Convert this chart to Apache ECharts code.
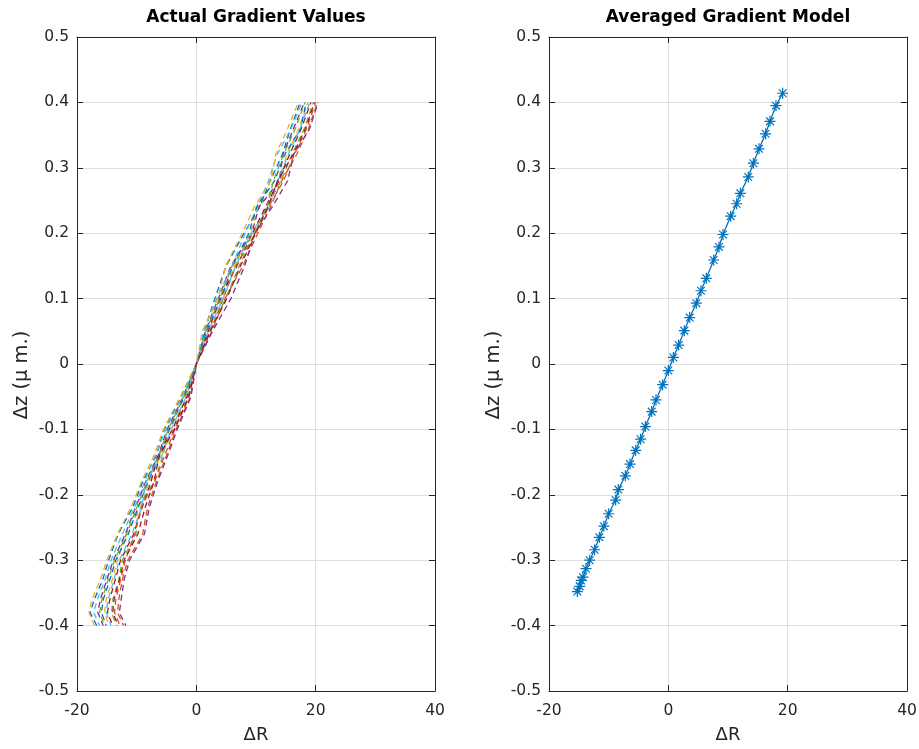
<!DOCTYPE html>
<html>
<head>
<meta charset="utf-8">
<script src="https://cdn.jsdelivr.net/npm/echarts@6/dist/echarts.min.js"></script>
<style>html,body{margin:0;padding:0;background:#fff;}#c{width:919px;height:749px;}</style>
</head>
<body>
<div id="c"></div>
<script>
// ---- data ----
const xTicks = [-20, 0, 20, 40];
const yTicks = [-0.5, -0.4, -0.3, -0.2, -0.1, 0, 0.1, 0.2, 0.3, 0.4, 0.5];
const leftTitle = 'Actual Gradient Values';
const rightTitle = 'Averaged Gradient Model';
const xName = 'ΔR';
const yName = 'Δz (μ m.)';

// Δz levels sampled by each measured run
const zLevels = [-0.40,-0.38,-0.36,-0.33,-0.30,-0.26,-0.22,-0.18,-0.14,-0.10,-0.05,0,0.05,0.10,0.15,0.20,0.24,0.28,0.32,0.36,0.40];
const run1  = [-16.7,-17.8,-17.1,-15.7,-14.7,-13.1,-10.7,-9.0,-6.7,-5.4,-2.5,0,1.3,3.1,5.0,8.0,10.6,12.4,14.4,15.8,17.4];
const run2  = [-12.2,-13.2,-13.0,-12.4,-11.5,-9.0,-8.2,-6.7,-5.0,-3.4,-1.0,0,2.6,4.8,7.8,10.3,12.4,14.3,16.8,18.8,20.3];
const run3  = [-14.6,-15.4,-15.1,-14.1,-13.2,-11.8,-9.4,-7.9,-6.0,-3.6,-1.8,0,1.9,4.3,6.4,9.0,10.4,14.2,15.1,17.2,18.7];
const run4  = [-15.6,-16.5,-16.1,-15.0,-13.9,-11.9,-10.2,-8.5,-6.4,-4.9,-2.2,0,1.5,3.7,5.8,9.3,10.5,13.9,14.5,16.3,18.1];
const run5  = [-13.4,-14.2,-14.0,-13.0,-12.4,-10.1,-9.9,-7.0,-5.6,-4.5,-1.4,0,2.2,4.9,7.2,9.8,11.8,14.2,16.0,18.1,19.6];
const run6  = [-16.2,-17.2,-16.6,-15.3,-14.3,-12.4,-10.4,-8.7,-6.9,-5.1,-2.4,0,1.2,3.4,6.0,8.2,10.2,12.1,13.5,15.9,17.7];
const run7  = [-14.0,-14.9,-14.5,-13.6,-12.7,-10.5,-9.1,-7.6,-6.4,-4.0,-1.6,0,2.0,3.9,6.8,9.4,11.6,13.8,15.6,17.6,19.2];
const run8  = [-15.1,-15.9,-15.6,-14.5,-13.5,-11.4,-9.8,-8.1,-6.2,-4.6,-2.0,0,1.7,4.1,6.1,8.8,10.1,13.1,14.8,17.5,18.4];
const run9  = [-12.8,-13.7,-13.5,-12.7,-11.9,-10.3,-9.3,-7.0,-5.3,-3.6,-1.2,0,2.4,4.5,6.6,10.0,12.1,14.6,16.4,18.5,20.0];
const run10 = [-17.1,-18.0,-17.5,-16.1,-15.0,-13.2,-11.0,-9.2,-7.1,-5.5,-2.7,0,1.0,3.6,4.9,7.7,9.7,12.5,13.3,15.3,17.1];
const run11 = [-11.8,-12.9,-12.6,-12.1,-11.2,-8.7,-7.9,-6.5,-4.8,-3.2,-0.9,0,2.7,5.8,8.1,9.8,12.7,15.3,16.3,19.0,20.4];
const run12 = [-15.4,-16.2,-15.8,-14.8,-13.7,-11.7,-10.0,-8.3,-6.3,-4.7,-2.1,0,1.6,3.9,6.0,9.6,11.9,12.9,14.6,16.6,18.2];
const run13 = [-14.3,-15.1,-14.8,-13.8,-12.9,-10.8,-9.2,-8.4,-5.8,-4.2,-1.7,0,2.0,4.5,6.6,9.2,12.2,13.6,15.4,17.4,19.0];
const run14 = [-13.1,-14.0,-13.8,-12.9,-12.1,-9.8,-8.6,-7.1,-6.2,-3.7,-1.3,0,2.3,5.1,7.4,9.9,12.0,13.6,16.2,18.3,19.8];
const runs = [run1,run2,run3,run4,run5,run6,run7,run8,run9,run10,run11,run12,run13,run14];

// averaged model
const avgR = [-15.25,-14.86,-14.6,-14.3,-13.8,-13.18,-12.35,-11.56,-10.8,-10.0,-8.83,-8.38,-7.21,-6.42,-5.47,-4.64,-3.85,-2.79,-2.07,-0.95,0,0.84,1.73,2.68,3.58,4.69,5.47,6.37,7.6,8.49,9.16,10.45,11.45,12.07,13.4,14.25,15.2,16.3,17.04,18.04,19.16];
const avgZ = [-0.348,-0.340,-0.331,-0.326,-0.313,-0.300,-0.284,-0.265,-0.248,-0.229,-0.208,-0.192,-0.171,-0.153,-0.132,-0.115,-0.0957,-0.0728,-0.055,-0.0316,-0.010,0.010,0.029,0.051,0.071,0.093,0.112,0.131,0.159,0.179,0.198,0.226,0.245,0.261,0.286,0.307,0.329,0.352,0.371,0.395,0.414];

// ---- styling ----
const FONT = 'DejaVu Sans';
const AX = '#262626';
const GRIDC = '#dfdfdf';
const palette = ['#0072BD','#D95319','#EDB120','#7E2F8E','#77AC30','#4DBEEE','#A2142F'];
const dashOffsets = [0, 3, 6, 1, 5, 2, 7, 4, 8, 0.5, 3.5, 6.5, 1.5, 5.5];
const fmtY = v => { const s = (+v.toFixed(1)).toString(); return s === '-0' ? '0' : s; };

function xAxes(gi, title) {
  const common = {gridIndex: gi, type: 'value', min: xTicks[0], max: xTicks[xTicks.length-1], interval: xTicks[1]-xTicks[0]};
  return [
    Object.assign({}, common, {
      position: 'bottom', name: xName, nameLocation: 'middle', nameGap: 35,
      nameTextStyle: {fontFamily: FONT, fontSize: 18, color: AX},
      axisLine: {show: true, onZero: false, lineStyle: {color: AX, width: 1}},
      axisTick: {show: true, inside: true, length: 6, lineStyle: {color: AX}},
      axisLabel: {fontFamily: FONT, fontSize: 15.5, color: AX, margin: 12},
      splitLine: {show: true, lineStyle: {color: GRIDC, width: 1}}
    }),
    Object.assign({}, common, {
      position: 'top', name: title, nameLocation: 'middle', nameGap: 11,
      nameTextStyle: {fontFamily: FONT, fontSize: 17, fontWeight: 'bold', color: '#000'},
      axisLine: {show: true, onZero: false, lineStyle: {color: AX, width: 1}},
      axisTick: {show: true, inside: true, length: 6, lineStyle: {color: AX}},
      axisLabel: {show: false},
      splitLine: {show: false}
    })
  ];
}
function yAxes(gi) {
  const common = {gridIndex: gi, type: 'value', min: yTicks[0], max: yTicks[yTicks.length-1], interval: 0.1};
  return [
    Object.assign({}, common, {
      position: 'left', name: yName, nameLocation: 'middle', nameGap: 45,
      nameTextStyle: {fontFamily: FONT, fontSize: 19.5, color: AX, padding: [0, 22, 0, 0]},
      axisLine: {show: true, onZero: false, lineStyle: {color: AX, width: 1}},
      axisTick: {show: true, inside: true, length: 6, lineStyle: {color: AX}},
      axisLabel: {fontFamily: FONT, fontSize: 15.5, color: AX, margin: 8, formatter: fmtY},
      splitLine: {show: true, lineStyle: {color: GRIDC, width: 1}}
    }),
    Object.assign({}, common, {
      position: 'right',
      axisLine: {show: true, onZero: false, lineStyle: {color: AX, width: 1}},
      axisTick: {show: true, inside: true, length: 6, lineStyle: {color: AX}},
      axisLabel: {show: false},
      splitLine: {show: false}
    })
  ];
}

const series = runs.map((r, i) => ({
  type: 'line', xAxisIndex: 0, yAxisIndex: 0,
  data: r.map((x, k) => [x, zLevels[k]]),
  showSymbol: false, symbol: 'none', silent: true,
  lineStyle: {color: palette[i % palette.length], width: 1.3, type: [6, 4], dashOffset: dashOffsets[i]}
}));
series.push({
  type: 'line', xAxisIndex: 2, yAxisIndex: 2,
  data: avgR.map((x, k) => [x, avgZ[k]]),
  symbol: 'path://M0,-5L0,5M-5,0L5,0M-3.5,-3.5L3.5,3.5M-3.5,3.5L3.5,-3.5',
  symbolSize: 11, symbolKeepAspect: true,
  itemStyle: {color: 'rgba(0,0,0,0)', borderColor: '#0072BD', borderWidth: 1.2},
  lineStyle: {color: '#0072BD', width: 1.3}
});

const chart = echarts.init(document.getElementById('c'), null, {renderer: 'canvas'});
chart.setOption({
  animation: false,
  backgroundColor: '#fff',
  grid: [
    {left: 77, top: 37, width: 358, height: 654, outerBoundsMode: 'none', containLabel: false},
    {left: 549, top: 37, width: 358, height: 654, outerBoundsMode: 'none', containLabel: false}
  ],
  xAxis: xAxes(0, leftTitle).concat(xAxes(1, rightTitle)),
  yAxis: yAxes(0).concat(yAxes(1)),
  series: series
});
</script>
</body>
</html>
